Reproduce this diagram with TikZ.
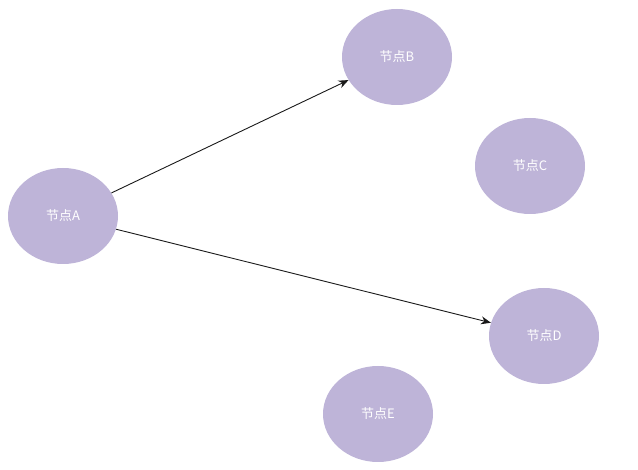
\documentclass[tikz,border=0pt]{standalone}
\usepackage{fontspec}
\newfontfamily\cjk{Noto Sans CJK SC}
\usetikzlibrary{shapes.geometric,arrows.meta}
\definecolor{nodefill}{RGB}{190,180,216}
\tikzset{
  peer/.style={ellipse,fill=nodefill,minimum width=110pt,minimum height=96pt,
    text=white,font=\cjk\fontsize{13}{13}\selectfont},
  link/.style={-{Stealth[length=10pt,width=8pt]},line width=0.9pt,black!90}
}
\begin{document}
\begin{tikzpicture}[x=1pt,y=-1pt]
\useasboundingbox (0,0) rectangle (638,470);
% nodes
\node[peer] (A) at (63,216) {节点A};
\node[peer] (B) at (397,57) {节点B};
\node[peer] (C) at (530,166) {节点C};
\node[peer] (D) at (544,336) {节点D};
\node[peer] (E) at (378,414) {节点E};
% links
\draw[link] (A) -- (B);
\draw[link] (A) -- (D);
\end{tikzpicture}
\end{document}
